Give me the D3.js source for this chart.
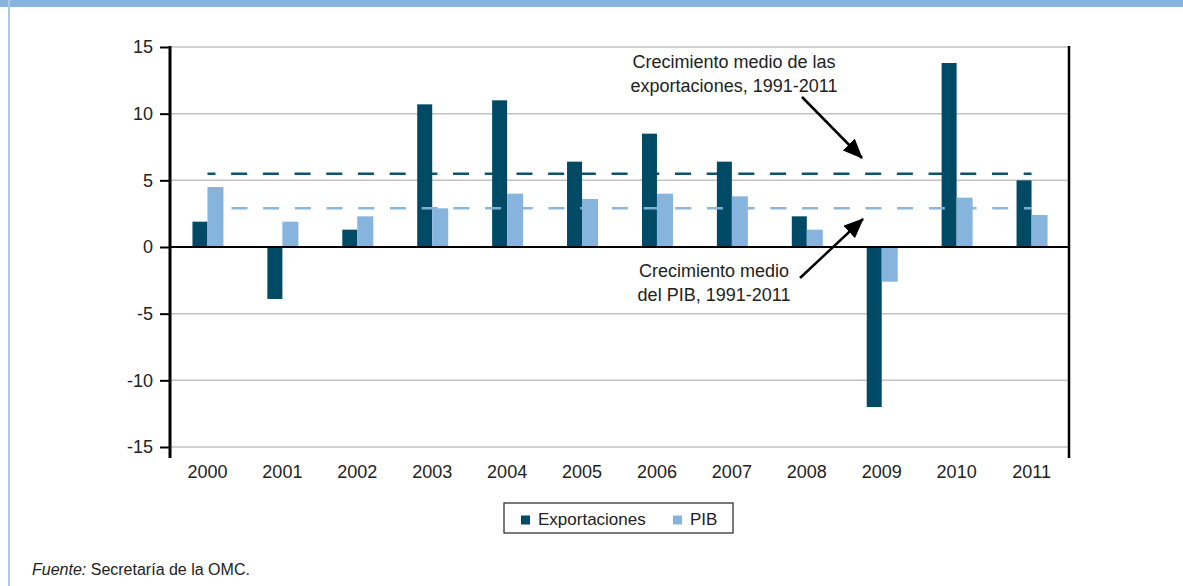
<!DOCTYPE html>
<html>
<head>
<meta charset="utf-8">
<script src="https://cdn.jsdelivr.net/npm/d3@7"></script>
<style>
  body { margin: 0; background: #fff; }
  text { font-family: "Liberation Sans", Arial, sans-serif; fill: #222; }
</style>
</head>
<body>
<div class="canvas"></div>
<script>
// data
const years = ['2000', '2001', '2002', '2003', '2004', '2005', '2006', '2007', '2008', '2009', '2010', '2011'];
const exportaciones = [1.9, -3.9, 1.3, 10.7, 11.0, 6.4, 8.5, 6.4, 2.3, -12.0, 13.8, 5.0];
const pib = [4.5, 1.9, 2.3, 2.9, 4.0, 3.6, 4.0, 3.8, 1.3, -2.6, 3.7, 2.4];
const yTicks = [-15, -10, -5, 0, 5, 10, 15];
const mediaExport = 5.5;
const mediaPib = 2.9;
const seriesNames = ['Exportaciones', 'PIB'];
const colors = ['#004a66', '#86b4dc'];

// set up dimensions
const width = 1183;
const height = 586;
const margin = { top: 47, right: 114, bottom: 139, left: 170 };
const graphWidth = width - margin.left - margin.right;
const graphHeight = height - margin.top - margin.bottom;
const font = '"Liberation Sans", Arial, sans-serif';

const svg = d3
  .select('.canvas')
  .append('svg')
  .attr('width', width)
  .attr('height', height);

// frame: top bar and left border
svg.append('rect').attr('x', 0).attr('y', 0).attr('width', width).attr('height', 7).attr('fill', '#86b4dc');
svg.append('rect').attr('x', 8).attr('y', 0).attr('width', 2).attr('height', height).attr('fill', '#a9c9e6');

const graph = svg
  .append('g')
  .attr('transform', `translate(${margin.left}, ${margin.top})`);

// scales
const x = d3.scaleBand().domain(years).range([0, graphWidth]);
const y = d3.scaleLinear().domain([-15, 15]).range([graphHeight, 0]);
const barW = 15;

// gridlines
graph
  .selectAll('line.grid')
  .data(yTicks.filter(d => d !== 0))
  .enter()
  .append('line')
  .attr('class', 'grid')
  .attr('x1', 0)
  .attr('x2', graphWidth)
  .attr('y1', d => y(d))
  .attr('y2', d => y(d))
  .attr('stroke', '#c2c2c2')
  .attr('stroke-width', 1.5);

// bars
const groups = graph
  .selectAll('g.year')
  .data(years)
  .enter()
  .append('g')
  .attr('class', 'year')
  .attr('transform', d => `translate(${x(d) + x.bandwidth() / 2}, 0)`);

groups
  .append('rect')
  .attr('x', -barW)
  .attr('width', barW)
  .attr('y', (d, i) => y(Math.max(0, exportaciones[i])))
  .attr('height', (d, i) => Math.abs(y(exportaciones[i]) - y(0)))
  .attr('fill', colors[0]);

groups
  .append('rect')
  .attr('x', 0)
  .attr('width', barW + 1)
  .attr('y', (d, i) => y(Math.max(0, pib[i])))
  .attr('height', (d, i) => Math.abs(y(pib[i]) - y(0)))
  .attr('fill', colors[1]);

// average dashed lines
const xStart = x(years[0]) + x.bandwidth() / 2;
const xEnd = x(years[years.length - 1]) + x.bandwidth() / 2;

graph
  .append('line')
  .attr('x1', xStart)
  .attr('x2', xEnd)
  .attr('y1', y(mediaExport))
  .attr('y2', y(mediaExport))
  .attr('stroke', colors[0])
  .attr('stroke-width', 2.5)
  .attr('stroke-dasharray', '16,15.7')
  .attr('stroke-dashoffset', 8)
  .attr('opacity', 0.95);

graph
  .append('line')
  .attr('x1', xStart + 24)
  .attr('x2', xEnd)
  .attr('y1', y(mediaPib))
  .attr('y2', y(mediaPib))
  .attr('stroke', colors[1])
  .attr('stroke-width', 2.5)
  .attr('stroke-dasharray', '16,15.7')
  .attr('opacity', 0.95);

// zero line
graph
  .append('line')
  .attr('x1', 0)
  .attr('x2', graphWidth)
  .attr('y1', y(0))
  .attr('y2', y(0))
  .attr('stroke', '#000')
  .attr('stroke-width', 2);

// y axis (plain hyphen for negatives, like the original)
const yAxis = d3
  .axisLeft(y)
  .tickValues(yTicks)
  .tickSize(10)
  .tickPadding(7)
  .tickFormat(d => String(d));
const yAxisGroup = graph.append('g').call(yAxis);
yAxisGroup.select('.domain').remove();
yAxisGroup.selectAll('.tick line').attr('stroke', '#000').attr('stroke-width', 2);
yAxisGroup.selectAll('.tick text').attr('font-size', 18).attr('font-family', font).attr('fill', '#222');

graph.append('line').attr('x1', 0).attr('x2', 0).attr('y1', -1).attr('y2', graphHeight + 11).attr('stroke', '#000').attr('stroke-width', 3);
graph.append('line').attr('x1', graphWidth).attr('x2', graphWidth).attr('y1', -1).attr('y2', graphHeight + 11).attr('stroke', '#000').attr('stroke-width', 2.5);

// x axis labels
const xAxis = d3.axisBottom(x).tickSize(0).tickPadding(18);
const xAxisGroup = graph.append('g').attr('transform', `translate(0, ${graphHeight})`).call(xAxis);
xAxisGroup.select('.domain').remove();
xAxisGroup.selectAll('.tick text').attr('font-size', 18).attr('font-family', font).attr('fill', '#222');

// arrows
const defs = svg.append('defs');
defs
  .append('marker')
  .attr('id', 'arrow')
  .attr('viewBox', '0 0 10 10')
  .attr('refX', 9.5)
  .attr('refY', 5)
  .attr('markerWidth', 20)
  .attr('markerHeight', 17)
  .attr('markerUnits', 'userSpaceOnUse')
  .attr('orient', 'auto')
  .attr('preserveAspectRatio', 'none')
  .append('path')
  .attr('d', 'M0,0 L10,5 L0,10 Z')
  .attr('fill', '#000');

// annotations
const notes = [
  { lines: ['Crecimiento medio de las', 'exportaciones, 1991-2011'], cx: 734, cy: 62, from: [802, 97], to: [862, 158] },
  { lines: ['Crecimiento medio', 'del PIB, 1991-2011'], cx: 714, cy: 271, from: [800, 278], to: [863, 219] }
];

notes.forEach(n => {
  svg
    .append('line')
    .attr('x1', n.from[0])
    .attr('y1', n.from[1])
    .attr('x2', n.to[0])
    .attr('y2', n.to[1])
    .attr('stroke', '#000')
    .attr('stroke-width', 2.5)
    .attr('marker-end', 'url(#arrow)');
  n.lines.forEach((t, i) => {
    svg
      .append('text')
      .attr('x', n.cx)
      .attr('y', n.cy + i * 24)
      .attr('dy', '0.35em')
      .attr('text-anchor', 'middle')
      .attr('font-size', 18)
      .text(t);
  });
});

// legend
const legend = svg.append('g').attr('transform', 'translate(504, 503)');
legend.append('rect').attr('width', 229).attr('height', 30).attr('fill', '#fff').attr('stroke', '#222').attr('stroke-width', 1.2);
const legendX = [17, 169];
seriesNames.forEach((name, i) => {
  legend.append('rect').attr('x', legendX[i]).attr('y', 12.5).attr('width', 9).attr('height', 9).attr('fill', colors[i]);
  legend
    .append('text')
    .attr('x', legendX[i] + 17)
    .attr('y', 16)
    .attr('dy', '0.35em')
    .attr('font-size', 17)
    .text(name);
});

// source
const src = svg.append('text').attr('x', 32).attr('y', 569).attr('dy', '0.35em').attr('font-size', 16);
src.append('tspan').attr('font-style', 'italic').text('Fuente:');
src.append('tspan').text(' Secretaría de la OMC.');
</script>
</body>
</html>
